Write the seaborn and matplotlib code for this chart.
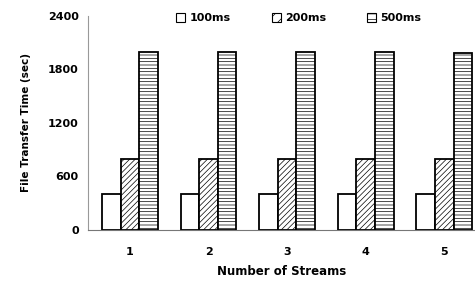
import numpy as np
import pandas as pd
import seaborn as sns
import matplotlib.pyplot as plt

streams = ["1", "2", "3", "4", "5"]
delays = ["100ms", "200ms", "500ms"]
t_100 = [400, 400, 400, 400, 400]
t_200 = [800, 800, 800, 800, 800]
t_500 = [2000, 2000, 2000, 2000, 1980]

data = pd.DataFrame({
    "streams": streams * 3,
    "delay": [d for d in delays for _ in streams],
    "time": t_100 + t_200 + t_500,
})

sns.set_style("white")
plt.rcParams["font.family"] = ["DejaVu Sans"]
plt.rcParams["font.weight"] = "bold"
plt.rcParams["hatch.linewidth"] = 0.5
plt.rcParams["text.color"] = "black"
plt.rcParams["axes.labelcolor"] = "black"
plt.rcParams["xtick.color"] = "black"
plt.rcParams["ytick.color"] = "black"

fig = plt.figure(figsize=(4.75, 2.91), dpi=100)
ax = fig.add_axes([0.185, 0.21, 0.815, 0.735])

sns.barplot(data=data, x="streams", y="time", hue="delay", order=streams,
            hue_order=delays, color="white", width=0.71, saturation=1,
            edgecolor="black", linewidth=1.3, ax=ax)

hatches = ["", "//////", "-----"]
for cont, h in zip(ax.containers, hatches):
    for bar in cont:
        bar.set_facecolor("white")
        bar.set_hatch(h)

ax.set_xlim(-0.535, 4.39)
ax.set_ylim(0, 2400)
ax.set_yticks([0, 600, 1200, 1800, 2400])
ax.tick_params(axis="both", labelsize=8, length=3, color="#999999")
ax.tick_params(axis="x", length=0, pad=12)
for lab in ax.get_xticklabels() + ax.get_yticklabels():
    lab.set_fontweight("bold")

for s in ["top", "right"]:
    ax.spines[s].set_visible(False)
ax.spines["left"].set_color("#999999")
ax.spines["left"].set_linestyle((0, (2, 1)))
ax.spines["left"].set_linewidth(0.8)
ax.spines["bottom"].set_color("#777777")
ax.spines["bottom"].set_linestyle((0, (2, 1)))
ax.spines["bottom"].set_linewidth(0.8)

ax.set_xlabel("Number of Streams", fontsize=8.5, fontweight="bold", labelpad=6)
ax.set_ylabel("File Transfer Time (sec)", fontsize=7.5, fontweight="bold", labelpad=12)

leg = ax.legend(loc="upper center", bbox_to_anchor=(0.545, 1.06), ncol=3,
                frameon=False, fontsize=8, handlelength=0.8, handleheight=0.8,
                columnspacing=3.7, handletextpad=0.4)
for t in leg.get_texts():
    t.set_fontweight("bold")
for patch, h in zip(leg.get_patches(), hatches):
    patch.set_facecolor("white")
    patch.set_edgecolor("black")
    patch.set_linewidth(0.8)
    patch.set_hatch(h.replace("//////", "///").replace("-----", "---"))

fig.savefig("out.png", dpi=100)
